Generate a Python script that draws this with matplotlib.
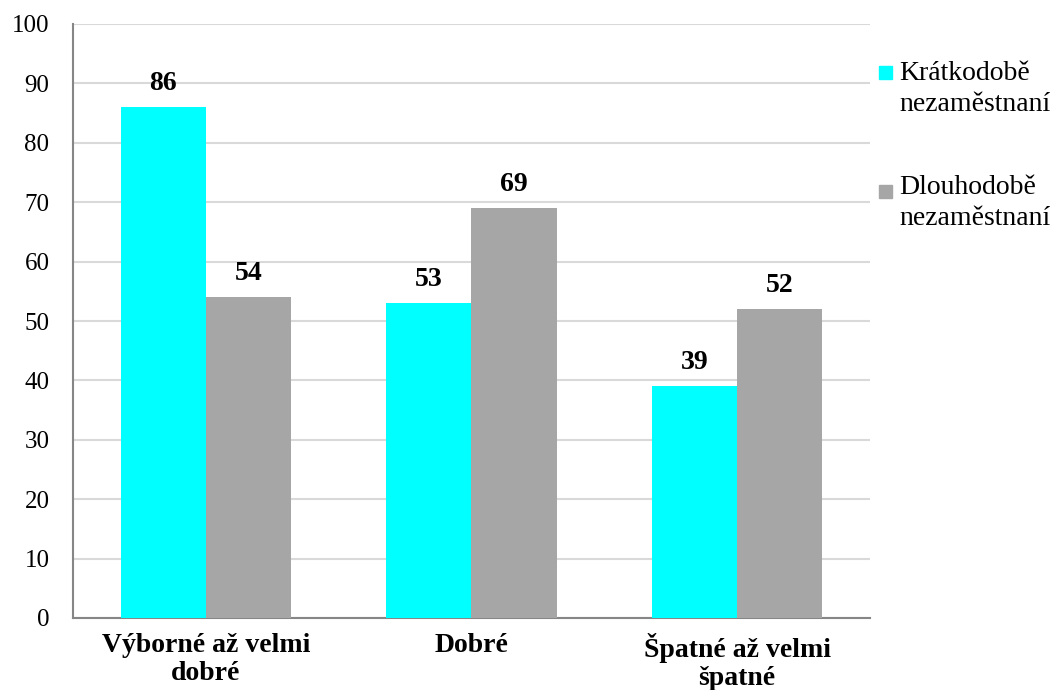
import matplotlib
matplotlib.use("Agg")
import matplotlib.pyplot as plt
from matplotlib.patches import Rectangle
import numpy as np

categories = ["Výborné až velmi\ndobré", "Dobré", "Špatné až velmi\nšpatné"]
series_names = ["Krátkodobě\nnezaměstnaní", "Dlouhodobě\nnezaměstnaní"]
short_term = [86, 53, 39]
long_term = [54, 69, 52]
colors = ["#00FFFF", "#A6A6A6"]

plt.rcParams['font.family'] = ['Liberation Serif', 'DejaVu Serif']

fig = plt.figure(figsize=(10.57, 6.9), dpi=100)
ax = fig.add_axes([73/1057, 1 - 618/690, (870-73)/1057, (618-24)/690])

x = np.arange(len(categories))
w = 0.32
for vals, off, col in [(short_term, -w/2, colors[0]), (long_term, w/2, colors[1])]:
    bars = ax.bar(x + off, vals, width=w, color=col, zorder=3)
    for b, v in zip(bars, vals):
        ax.annotate(f"{v}", (b.get_x() + b.get_width()/2, v), xytext=(0, 8),
                    textcoords="offset points", ha="center", va="bottom",
                    fontsize=20, fontweight="bold", zorder=4)

ax.set_xlim(-0.5, 2.5)
ax.set_ylim(0, 100)
ax.set_yticks(np.arange(0, 101, 10))
ax.yaxis.grid(True, color="#D9D9D9", linewidth=1.5, zorder=0)
ax.set_axisbelow(True)
ax.set_xticks(x)
ax.set_xticklabels(categories, fontsize=20, fontweight="bold", linespacing=1.12)
ax.tick_params(axis="x", length=0, pad=11)
ax.tick_params(axis="y", length=0, pad=17, labelsize=18)
for s in ["top", "right"]:
    ax.spines[s].set_visible(False)
for s in ["left", "bottom"]:
    ax.spines[s].set_color("#868686")
    ax.spines[s].set_linewidth(1.5)

# legend
H = 690
for name, col, sq_top, txt_c in [(series_names[0], colors[0], 66, 89), (series_names[1], colors[1], 185, 203)]:
    fig.patches.append(Rectangle((879/1057, 1 - (sq_top+13)/H), 13/1057, 13/H,
                                 transform=fig.transFigure, color=col, figure=fig))
    fig.text(899/1057, 1 - txt_c/H, name, fontsize=20, va="center", ha="left", linespacing=1.28)

fig.savefig("out.png", dpi=100)
